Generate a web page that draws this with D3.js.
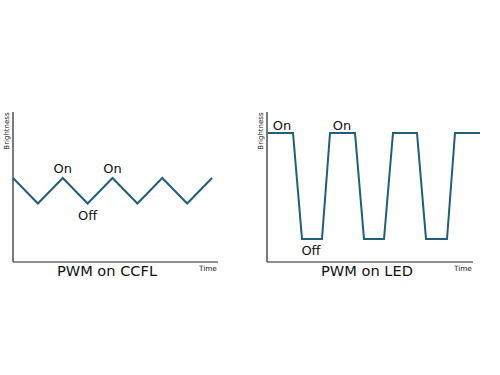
<!DOCTYPE html>
<html>
<head>
<meta charset="utf-8">
<script src="https://cdnjs.cloudflare.com/ajax/libs/d3/7.8.5/d3.min.js"></script>
<style>
  body { margin: 0; background: #fff; }
  text { font-family: "DejaVu Sans", Verdana, sans-serif; fill: #111; }
</style>
</head>
<body>
<div id="chartHolder"></div>
<script>
// CCFL: triangle wave, time in steps, brightness 0..1
const ccflTime = [0, 1, 2, 3, 4, 5, 6, 7, 8];
const ccflBright = [0.56, 0.39, 0.56, 0.39, 0.56, 0.39, 0.56, 0.39, 0.56];
// LED: trapezoid wave
const ledTime = [1, 26, 35, 55, 63, 88, 97, 117, 126, 150, 159, 180, 188, 213];
const ledBright = [0.86, 0.86, 0.153, 0.153, 0.86, 0.86, 0.153, 0.153, 0.86, 0.86, 0.153, 0.153, 0.86, 0.86];

const ccflLabels = [{t: 2, b: 0.56, text: "On"}, {t: 4, b: 0.56, text: "On"}, {t: 3, b: 0.39, text: "Off"}];
const ledLabels = [{t: 15, b: 0.86, text: "On"}, {t: 75, b: 0.86, text: "On"}, {t: 44, b: 0.153, text: "Off"}];

const titles = ["PWM on CCFL", "PWM on LED"];

const w = 500;
const h = 375;
const lineColor = "#1e5f7e";

const svg = d3.select("#chartHolder")
  .append("svg")
  .attr("width", w)
  .attr("height", h);

function panel(opts) {
  const x = d3.scaleLinear().domain(opts.xDomain).range(opts.xRange);
  const y = d3.scaleLinear().domain([0, 1]).range([262, 112]);
  const g = svg.append("g");

  // axes drawn as plain lines (no ticks in the picture)
  g.append("line")
    .attr("x1", opts.xRange[0]).attr("x2", opts.xRange[0])
    .attr("y1", y(1)).attr("y2", y(0))
    .attr("stroke", "#222").attr("stroke-width", 1.2);
  g.append("line")
    .attr("x1", opts.xRange[0]).attr("x2", opts.xRange[1])
    .attr("y1", y(0)).attr("y2", y(0))
    .attr("stroke", "#222").attr("stroke-width", 1.2);

  const pts = opts.time.map((t, i) => [t, opts.bright[i]]);
  const line = d3.line().x((d) => x(d[0])).y((d) => y(d[1]));
  g.append("path")
    .attr("d", line(pts))
    .attr("fill", "none")
    .attr("stroke", lineColor)
    .attr("stroke-width", 2)
    .attr("stroke-linejoin", "miter");

  g.selectAll(".lbl")
    .data(opts.labels)
    .enter()
    .append("text")
    .attr("class", "lbl")
    .attr("x", (d) => x(d.t))
    .attr("y", (d) => y(d.b) + (d.text == "Off" ? opts.offDy : opts.onDy))
    .attr("text-anchor", "middle")
    .style("font-size", "13px")
    .text((d) => d.text);

  g.append("text")
    .attr("text-anchor", "middle")
    .attr("transform", "translate(" + (opts.xRange[0] - 4) + "," + (y(1) + 19) + ")rotate(-90)")
    .style("font-size", "7px")
    .text("Brightness");

  g.append("text")
    .attr("x", opts.timeX)
    .attr("y", 271)
    .style("font-size", "7.3px")
    .text("Time");

  g.append("text")
    .attr("x", opts.titleX)
    .attr("y", 276)
    .attr("text-anchor", "middle")
    .style("font-size", "14.6px")
    .text(opts.title);
}

panel({
  xDomain: [0, 8.24], xRange: [13, 218],
  time: ccflTime, bright: ccflBright, labels: ccflLabels,
  onDy: -5, offDy: 16,
  timeX: 199, titleX: 107, title: titles[0]
});

panel({
  xDomain: [0, 206], xRange: [267, 473],
  time: ledTime, bright: ledBright, labels: ledLabels,
  onDy: -3, offDy: 16,
  timeX: 454, titleX: 367, title: titles[1]
});
</script>
</body>
</html>
